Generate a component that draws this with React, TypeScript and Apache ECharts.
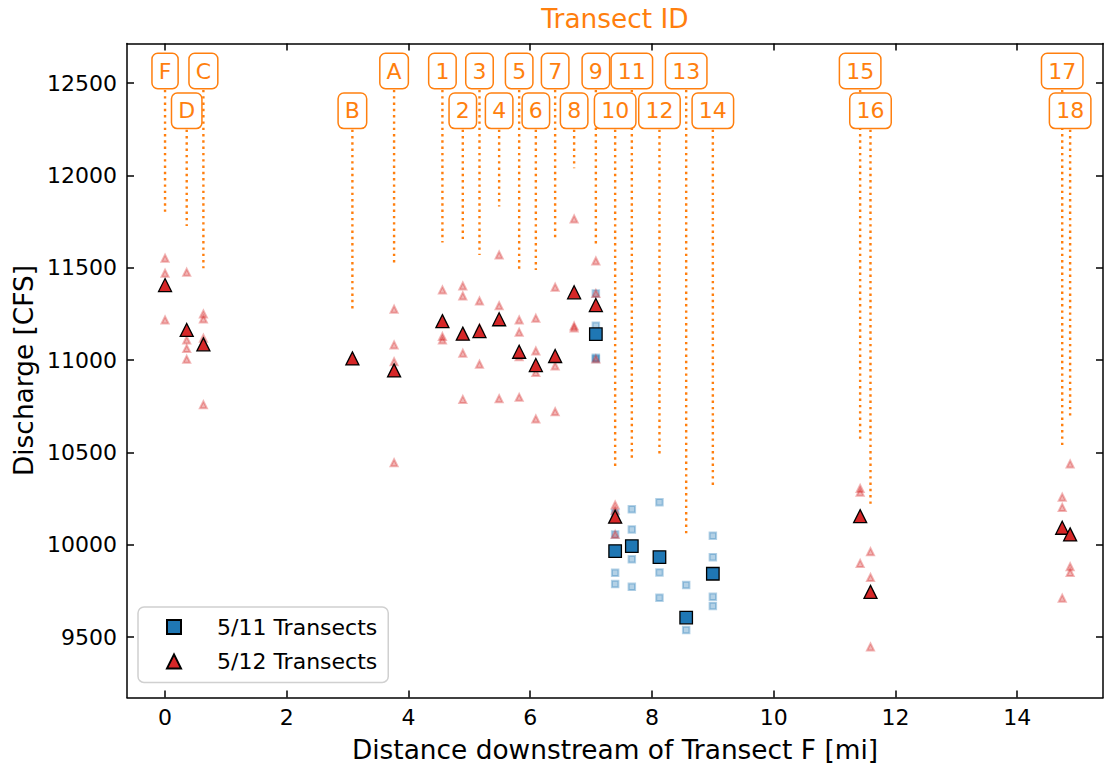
import React, { useEffect, useRef } from "react";
import * as echarts from "echarts";

// Transects along the river, ordered downstream from Transect F
const transectIds = ["F", "D", "C", "B", "A", "1", "2", "3", "4", "5", "6", "7", "8", "9", "10", "11", "12", "13", "14", "15", "16", "17", "18"];
const transectMiles = [0.0, 0.356, 0.63, 3.078, 3.763, 4.557, 4.892, 5.166, 5.489, 5.818, 6.092, 6.409, 6.721, 7.078, 7.395, 7.669, 8.123, 8.562, 9.0, 11.42, 11.59, 14.74, 14.87];
// discharge level where each transect's dotted leader stops
const leaderEndCfs = [11803, 11726, 11497, 11275, 11524, 11636, 11656, 11569, 11831, 11488, 11488, 11663, 12039, 11629, 10417, 10459, 10486, 10043, 10314, 10567, 10215, 10527, 10686];
// which row of ID boxes a transect sits in (1 = upper, 2 = lower)
const labelTier = [1, 2, 1, 2, 1, 1, 2, 1, 2, 1, 2, 1, 2, 1, 2, 1, 2, 1, 2, 1, 2, 1, 2];

// mean discharge per transect, CFS (null = not surveyed that day)
const may12Mean: (number | null)[] = [11406, 11163, 11085, 11009, 10944, 11211, 11143, 11157, 11221, 11045, 10973, 11022, 11367, 11298, 10152, null, null, null, null, 10155, 9745, 10092, 10056];
const may11Mean: (number | null)[] = [null, null, null, null, null, null, null, null, null, null, null, null, null, 11140, 9966, 9993, 9933, 9606, 9843, null, null, null, null];

// individual passes per transect, CFS
const may12Passes: number[][] = [
  [11551, 11470, 11217],
  [11475, 11109, 11062, 11004],
  [11250, 11222, 11118, 10758],
  [11009],
  [11275, 11082, 10991, 10444],
  [11379, 11127, 11109],
  [11401, 11347, 11037, 10787],
  [11320, 11174, 10977],
  [11569, 11294, 10791],
  [11217, 11150, 11018, 10798],
  [11226, 11049, 10932, 10681],
  [11394, 10968, 10720],
  [11764, 11184, 11173],
  [11536, 11361, 11006],
  [10215, 10185, 10056],
  [],
  [],
  [],
  [],
  [10305, 10284, 9899],
  [9962, 9823, 9447],
  [10257, 10202, 9710],
  [10437, 9881, 9850],
];
const may11Passes: number[][] = [
  [], [], [], [], [], [], [], [], [], [], [], [], [],
  [11361, 11186, 11012, 11006],
  [10172, 10056, 9848, 9787],
  [10192, 10083, 9921, 9772],
  [10230, 9850, 9713],
  [9782, 9538],
  [10049, 9933, 9718, 9669],
  [], [], [], [],
];

const xTicks = [0, 2, 4, 6, 8, 10, 12, 14];
const yTicks = [9500, 10000, 10500, 11000, 11500, 12000, 12500];

const FONT = "DejaVu Sans";
const ORANGE = "#ff7f0e";
const BLUE = "#1f77b4";
const RED = "#d62728";

const flattenPasses = (passes: number[][]) =>
  passes.flatMap((vals, i) => vals.map((v) => [transectMiles[i], v]));
const meanPoints = (means: (number | null)[]) =>
  means.flatMap((v, i) => (v === null ? [] : [[transectMiles[i], v]]));

export default function App() {
  const ref = useRef<HTMLDivElement>(null);

  useEffect(() => {
    if (!ref.current) return;
    const chart = echarts.init(ref.current, null, { renderer: "svg" });

    const axisLine = { show: true, onZero: false, lineStyle: { color: "#000", width: 1.5 } };
    const tick = (values: number[]) => ({
      show: true,
      inside: true,
      length: 7,
      customValues: values,
      lineStyle: { color: "#000", width: 1.5 },
    });

    const leaderData = transectMiles.map((m, i) => [m, leaderEndCfs[i], labelTier[i]]);

    chart.setOption({
      animation: false,
      textStyle: { fontFamily: FONT },
      grid: {
        left: 127,
        top: 43.5,
        width: 976,
        height: 654,
        containLabel: false,
        outerBoundsMode: "none",
      },
      xAxis: [
        {
          type: "value",
          position: "bottom",
          min: -0.625,
          max: 15.41,
          axisLine,
          axisTick: tick(xTicks),
          splitLine: { show: false },
          axisLabel: { customValues: xTicks, fontSize: 22, color: "#000", margin: 9, fontFamily: FONT },
          name: "Distance downstream of Transect F [mi]",
          nameLocation: "middle",
          nameGap: 39,
          nameTextStyle: { fontSize: 26.4, color: "#000", fontFamily: FONT },
        },
        {
          type: "value",
          position: "top",
          min: -0.625,
          max: 15.41,
          axisLine,
          axisTick: tick(xTicks),
          splitLine: { show: false },
          axisLabel: { show: false },
          name: "Transect ID",
          nameLocation: "middle",
          nameGap: 12,
          nameTextStyle: { fontSize: 26.4, color: ORANGE, fontFamily: FONT },
        },
      ],
      yAxis: [
        {
          type: "value",
          position: "left",
          min: 9173,
          max: 12714,
          axisLine,
          axisTick: tick(yTicks),
          splitLine: { show: false },
          axisLabel: {
            customValues: yTicks,
            formatter: (v: number) => String(v),
            fontSize: 22,
            color: "#000",
            margin: 10,
            fontFamily: FONT,
          },
          name: "Discharge [CFS]",
          nameLocation: "middle",
          nameRotate: 90,
          nameGap: 88,
          nameTextStyle: { fontSize: 26.4, color: "#000", fontFamily: FONT },
        },
        {
          type: "value",
          position: "right",
          min: 9173,
          max: 12714,
          axisLine,
          axisTick: tick(yTicks),
          splitLine: { show: false },
          axisLabel: { show: false },
        },
      ],
      legend: {
        data: ["5/11 Transects", "5/12 Transects"],
        orient: "vertical",
        left: 138,
        top: 607,
        padding: [9, 11, 10, 28],
        itemGap: 12.4,
        itemWidth: 14,
        itemHeight: 14,
        backgroundColor: "#fff",
        borderColor: "#d0d0d0",
        borderWidth: 1.5,
        borderRadius: 6,
        selectedMode: false,
        textStyle: { fontSize: 22, color: "#000", fontFamily: FONT, padding: [0, 0, 0, 31] },
      },
      series: [
        {
          type: "custom",
          name: "leaders",
          z: 1,
          silent: true,
          encode: { x: 0, y: 1 },
          data: leaderData,
          renderItem: (params: any, api: any) => {
            const end = api.coord([api.value(0), api.value(1)]);
            const cs = params.coordSys;
            const yTop = cs.y + (api.value(2) === 1 ? 27.5 : 67.3);
            return {
              type: "line",
              shape: { x1: end[0], y1: yTop, x2: end[0], y2: end[1] },
              style: { stroke: ORANGE, lineWidth: 2.4, lineDash: [2.4, 3.9] },
            };
          },
        },
        {
          type: "scatter",
          name: "5/11 passes",
          z: 2,
          silent: true,
          symbol: "rect",
          symbolSize: 6.5,
          itemStyle: { color: "rgba(31,119,180,0.42)", borderColor: "rgba(31,119,180,0.42)", borderWidth: 2 },
          data: flattenPasses(may11Passes),
        },
        {
          type: "scatter",
          name: "5/12 passes",
          z: 2,
          silent: true,
          symbol: "triangle",
          symbolSize: 7,
          itemStyle: { color: "rgba(214,39,40,0.42)", borderColor: "rgba(214,39,40,0.42)", borderWidth: 2 },
          data: flattenPasses(may12Passes),
        },
        {
          type: "scatter",
          name: "5/11 Transects",
          z: 3,
          silent: true,
          symbol: "rect",
          symbolSize: 12.5,
          itemStyle: { color: BLUE, borderColor: "#000", borderWidth: 1.3, opacity: 1 },
          data: meanPoints(may11Mean),
        },
        {
          type: "scatter",
          name: "5/12 Transects",
          z: 3,
          silent: true,
          symbol: "triangle",
          symbolSize: 13,
          itemStyle: { color: RED, borderColor: "#000", borderWidth: 1.3, opacity: 1 },
          data: meanPoints(may12Mean),
        },
        {
          type: "custom",
          name: "transect ids",
          z: 5,
          silent: true,
          encode: { x: 0, y: 1 },
          data: leaderData,
          renderItem: (params: any, api: any) => {
            const p = api.coord([api.value(0), api.value(1)]);
            const cs = params.coordSys;
            const yMid = cs.y + (api.value(2) === 1 ? 27.5 : 67.3);
            return {
              type: "text",
              x: p[0],
              y: yMid,
              style: {
                text: transectIds[params.dataIndex],
                fill: ORANGE,
                fontSize: 22,
                fontFamily: FONT,
                align: "center",
                verticalAlign: "middle",
                backgroundColor: "#fff",
                borderColor: ORANGE,
                borderWidth: 1.5,
                borderRadius: 5,
                padding: [6, 6],
              },
            };
          },
        },
      ],
    });

    return () => chart.dispose();
  }, []);

  return (
    <div
      ref={ref}
      style={{ position: "fixed", left: 0, top: 0, width: 1105, height: 765, background: "#fff" }}
    />
  );
}
